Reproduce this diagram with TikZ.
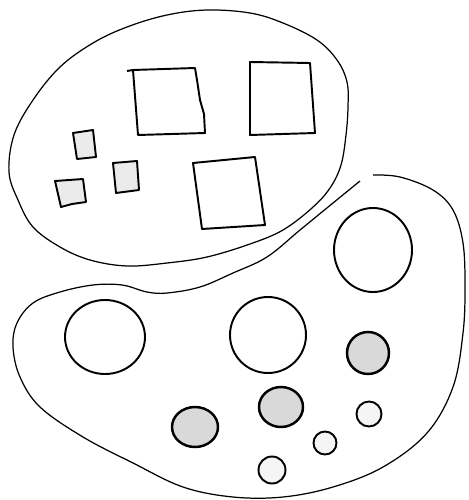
\documentclass[tikz,border=0pt]{standalone}
\begin{document}
\begin{tikzpicture}[x=0.02cm,y=-0.02cm,
  blob/.style={draw=black,line width=0.7pt,line join=round},
  bigbox/.style={draw=black,line width=1.1pt,line join=round},
  smallbox/.style={draw=black,line width=1.1pt,fill=black!8,line join=round},
  cell/.style={draw=black,line width=1.1pt},
  darkcell/.style={draw=black,line width=1.4pt,fill=black!15},
  tinycell/.style={draw=black,line width=1.1pt,fill=black!4}]
\useasboundingbox (0,0) rectangle (469,500);
% top blob
\draw[blob] plot[smooth cycle,tension=0.6] coordinates {
  (207,10) (250,13) (283,23) (317,40) (337,60) (347,82) (348,107) (346,135)
  (341,165) (330,188) (312,208) (283,230) (250,244) (207,257) (167,263)
  (127,266) (90,260) (60,247) (33,227) (18,200) (9,172) (14,135) (33,100)
  (60,67) (93,43) (127,27) (167,15)};
% big squares
\draw[bigbox] (127,71) -- (133,70) -- (195,68) -- (197,80) -- (200,100) -- (204,114) -- (205,133) -- (138,135) -- (133,70);
\draw[bigbox] (250,62) -- (310,63) -- (315,133) -- (250,135) -- cycle;
\draw[bigbox] (193,163) -- (255,157) -- (265,225) -- (202,229) -- cycle;
% small squares
\draw[smallbox] (73,133) -- (93,130) -- (96,157) -- (77,159) -- cycle;
\draw[smallbox] (113,163) -- (137,161) -- (139,190) -- (116,193) -- cycle;
\draw[smallbox] (55,181) -- (83,179) -- (86,202) -- (72,204) -- (61,207) -- cycle;
% bottom blob
\draw[blob] plot[smooth,tension=0.6] coordinates {
  (360,181) (333,203) (300,230) (267,257) (233,273) (200,287) (167,293)
  (147,292) (122,285) (93,285) (60,292) (33,303) (17,323) (13,347) (20,377)
  (40,407) (83,437) (133,463) (183,487) (233,497) (283,497) (333,487)
  (383,467) (427,433) (453,387) (463,333) (465,287) (463,243) (453,210)
  (433,190) (400,177) (373,175)};
% large open cells
\draw[cell] (105,337) ellipse [x radius=40,y radius=37];
\draw[cell] (268,335) ellipse [x radius=38,y radius=38];
\draw[cell] (373,250) ellipse [x radius=39,y radius=42];
% dark cells
\draw[darkcell] (368,353) circle [radius=21];
\draw[darkcell] (195,427) ellipse [x radius=23,y radius=20];
\draw[darkcell] (281,407) ellipse [x radius=22,y radius=20];
% tiny cells
\draw[tinycell] (369,414) circle [radius=12.5];
\draw[tinycell] (325,443) circle [radius=11.5];
\draw[tinycell] (272,470) circle [radius=13.5];
\end{tikzpicture}
\end{document}
